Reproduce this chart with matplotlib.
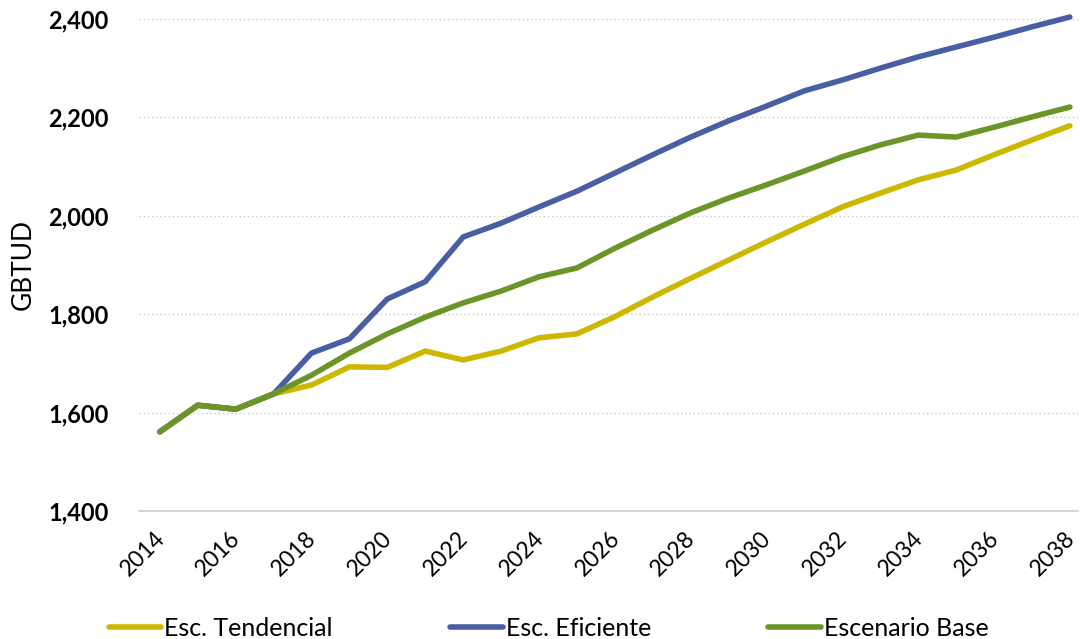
import matplotlib
matplotlib.use("Agg")
import matplotlib.pyplot as plt
import matplotlib.transforms as mtransforms

plt.rcParams['font.family'] = ['Lato', 'DejaVu Sans']

years = list(range(2014, 2039))
tendencial = [1561, 1615, 1607, 1638, 1656, 1693, 1692, 1725, 1707, 1725, 1752, 1760,
              1795, 1835, 1873, 1910, 1947, 1983, 2018, 2046, 2073, 2093, 2124, 2154, 2183]
eficiente = [1561, 1615, 1607, 1638, 1721, 1750, 1831, 1866, 1957, 1985, 2018, 2050,
             2087, 2124, 2160, 2193, 2223, 2254, 2276, 2300, 2323, 2343, 2363, 2384, 2404]
base = [1561, 1615, 1607, 1638, 1676, 1721, 1760, 1794, 1823, 1847, 1876, 1894,
        1934, 1971, 2006, 2036, 2063, 2091, 2120, 2144, 2164, 2160, 2180, 2201, 2221]
series_names = ["Esc. Tendencial", "Esc. Eficiente", "Escenario Base"]
colors = ["#CDB700", "#4A5FA3", "#6B9528"]
yticks = [1400, 1600, 1800, 2000, 2200, 2400]
xticks = list(range(2014, 2039, 2))

fig = plt.figure(figsize=(10.8, 6.39), dpi=100)
ax = fig.add_axes([0.1287, 0.2003, 0.8693, 0.77])

for vals, name, c in zip([tendencial, eficiente, base], series_names, colors):
    ax.plot(years, vals, color=c, lw=4, label=name, solid_capstyle='round', clip_on=False)

ax.set_ylim(1400, 2400)
ax.set_xlim(2013.45, 2038.21)
ax.set_yticks(yticks)
ax.set_yticklabels([f"{v:,}" for v in yticks], fontweight='bold', fontsize=17)
ax.set_xticks(xticks)
ax.set_xticklabels([str(x) for x in xticks], rotation=45, fontsize=16.5, ha='right',
                   va='top', rotation_mode='anchor')
ax.tick_params(axis='both', length=0)
ax.tick_params(axis='x', pad=12)
ax.tick_params(axis='y', pad=22)
offset = mtransforms.ScaledTranslation(-6 / 100, 0, fig.dpi_scale_trans)
for lab in ax.get_xticklabels():
    lab.set_transform(lab.get_transform() + offset)
for g in yticks[1:]:
    ax.axhline(g, color='#C8C8C8', lw=1, ls=(0, (1, 2)), zorder=0)
for s in ['top', 'right', 'left']:
    ax.spines[s].set_visible(False)
ax.spines['bottom'].set_color('#D0D0D0')
ax.spines['bottom'].set_linewidth(1.2)
ax.set_ylabel("GBTUD", fontsize=19, labelpad=9)

fig.legend(loc='lower center', bbox_to_anchor=(0.508, -0.036), ncol=3, frameon=False,
           fontsize=18, handlelength=2.1, handletextpad=0.12, columnspacing=4.7)

fig.savefig("out.png", dpi=100)
